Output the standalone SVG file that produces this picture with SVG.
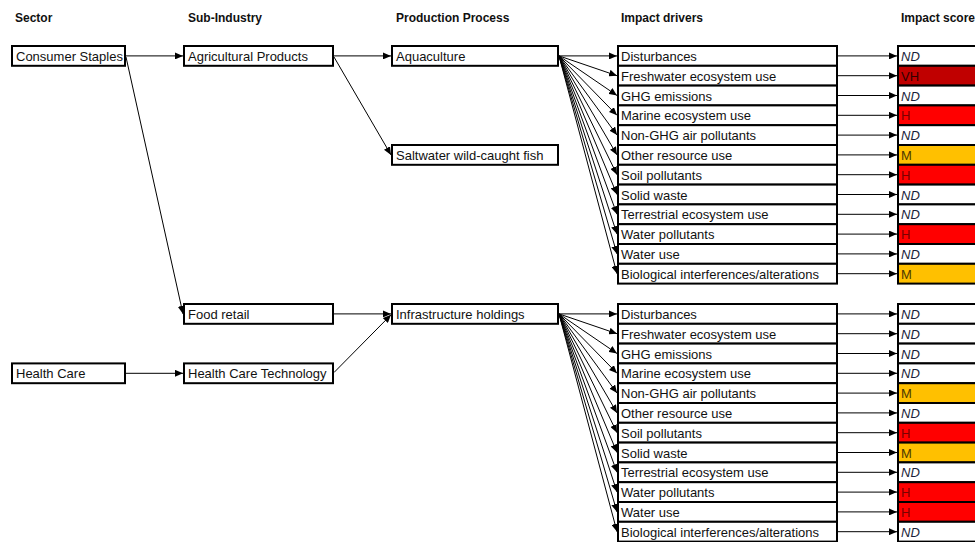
<svg xmlns="http://www.w3.org/2000/svg" width="975" height="542" viewBox="0 0 975 542">
<style>
.box{fill:#fff;stroke:#000;stroke-width:2}
.t{font-family:"Liberation Sans",Arial,sans-serif;font-size:13px;fill:#111}
.h{font-family:"Liberation Sans",Arial,sans-serif;font-size:12px;font-weight:bold;fill:#111}
.nd{font-style:italic;fill:#1a1f3a}
.vh{fill:#C00000;stroke:#000;stroke-width:2}
.hi{fill:#FF0000;stroke:#000;stroke-width:2}
.m{fill:#FFC000;stroke:#000;stroke-width:2}
.tvh{fill:#300000}
.thi{fill:#7a0000}
.tm{fill:#4d3a00}
.c{stroke:#000;stroke-width:1;fill:none;marker-end:url(#ah)}
</style>
<defs>
<marker id="ah" markerUnits="userSpaceOnUse" markerWidth="8" markerHeight="7" refX="8" refY="3.5" orient="auto">
<path d="M0,0 L8,3.5 L0,7 Z" fill="#000"/>
</marker>
</defs>
<rect width="975" height="542" fill="#fff"/>
<g id="headers">
<text class="h" x="15" y="22">Sector</text>
<text class="h" x="188" y="22">Sub-Industry</text>
<text class="h" x="396" y="22">Production Process</text>
<text class="h" x="621" y="22">Impact drivers</text>
<text class="h" x="901" y="22">Impact score</text>
</g>
<g id="connectors">
<line class="c" x1="126" y1="55.9" x2="183" y2="55.9"/>
<line class="c" x1="126" y1="57" x2="183" y2="313.9"/>
<line class="c" x1="334" y1="55.9" x2="391" y2="55.9"/>
<line class="c" x1="334" y1="57" x2="391" y2="154.9"/>
<line class="c" x1="334" y1="313.9" x2="391" y2="313.9"/>
<line class="c" x1="334" y1="372.5" x2="391" y2="314.8"/>
<line class="c" x1="126" y1="373.3" x2="183" y2="373.3"/>
<line class="c" x1="559" y1="55.9" x2="617" y2="55.9"/>
<line class="c" x1="559" y1="55.9" x2="617" y2="75.7"/>
<line class="c" x1="559" y1="55.9" x2="617" y2="95.5"/>
<line class="c" x1="559" y1="55.9" x2="617" y2="115.3"/>
<line class="c" x1="559" y1="55.9" x2="617" y2="135.1"/>
<line class="c" x1="559" y1="55.9" x2="617" y2="154.9"/>
<line class="c" x1="559" y1="55.9" x2="617" y2="174.7"/>
<line class="c" x1="559" y1="55.9" x2="617" y2="194.5"/>
<line class="c" x1="559" y1="55.9" x2="617" y2="214.3"/>
<line class="c" x1="559" y1="55.9" x2="617" y2="234.1"/>
<line class="c" x1="559" y1="55.9" x2="617" y2="253.9"/>
<line class="c" x1="559" y1="55.9" x2="617" y2="273.7"/>
<line class="c" x1="559" y1="313.9" x2="617" y2="313.9"/>
<line class="c" x1="559" y1="313.9" x2="617" y2="333.7"/>
<line class="c" x1="559" y1="313.9" x2="617" y2="353.5"/>
<line class="c" x1="559" y1="313.9" x2="617" y2="373.3"/>
<line class="c" x1="559" y1="313.9" x2="617" y2="393.1"/>
<line class="c" x1="559" y1="313.9" x2="617" y2="412.9"/>
<line class="c" x1="559" y1="313.9" x2="617" y2="432.7"/>
<line class="c" x1="559" y1="313.9" x2="617" y2="452.5"/>
<line class="c" x1="559" y1="313.9" x2="617" y2="472.3"/>
<line class="c" x1="559" y1="313.9" x2="617" y2="492.1"/>
<line class="c" x1="559" y1="313.9" x2="617" y2="511.9"/>
<line class="c" x1="559" y1="313.9" x2="617" y2="531.7"/>
<line class="c" x1="838" y1="55.9" x2="897" y2="55.9"/>
<line class="c" x1="838" y1="75.7" x2="897" y2="75.7"/>
<line class="c" x1="838" y1="95.5" x2="897" y2="95.5"/>
<line class="c" x1="838" y1="115.3" x2="897" y2="115.3"/>
<line class="c" x1="838" y1="135.1" x2="897" y2="135.1"/>
<line class="c" x1="838" y1="154.9" x2="897" y2="154.9"/>
<line class="c" x1="838" y1="174.7" x2="897" y2="174.7"/>
<line class="c" x1="838" y1="194.5" x2="897" y2="194.5"/>
<line class="c" x1="838" y1="214.3" x2="897" y2="214.3"/>
<line class="c" x1="838" y1="234.1" x2="897" y2="234.1"/>
<line class="c" x1="838" y1="253.9" x2="897" y2="253.9"/>
<line class="c" x1="838" y1="273.7" x2="897" y2="273.7"/>
<line class="c" x1="838" y1="313.9" x2="897" y2="313.9"/>
<line class="c" x1="838" y1="333.7" x2="897" y2="333.7"/>
<line class="c" x1="838" y1="353.5" x2="897" y2="353.5"/>
<line class="c" x1="838" y1="373.3" x2="897" y2="373.3"/>
<line class="c" x1="838" y1="393.1" x2="897" y2="393.1"/>
<line class="c" x1="838" y1="412.9" x2="897" y2="412.9"/>
<line class="c" x1="838" y1="432.7" x2="897" y2="432.7"/>
<line class="c" x1="838" y1="452.5" x2="897" y2="452.5"/>
<line class="c" x1="838" y1="472.3" x2="897" y2="472.3"/>
<line class="c" x1="838" y1="492.1" x2="897" y2="492.1"/>
<line class="c" x1="838" y1="511.9" x2="897" y2="511.9"/>
<line class="c" x1="838" y1="531.7" x2="897" y2="531.7"/>
</g>
<g id="sector-consumer-staples"><rect class="box" x="12" y="46" width="113" height="19.8"/><text class="t" x="16" y="61">Consumer Staples</text></g>
<g id="sector-health-care"><rect class="box" x="12" y="363.4" width="113" height="19.8"/><text class="t" x="16" y="378.4">Health Care</text></g>
<g id="sub-agricultural-products"><rect class="box" x="184" y="46" width="149" height="19.8"/><text class="t" x="188" y="61">Agricultural Products</text></g>
<g id="sub-food-retail"><rect class="box" x="184" y="304" width="149" height="19.8"/><text class="t" x="188" y="319">Food retail</text></g>
<g id="sub-health-care-technology"><rect class="box" x="184" y="363.4" width="149" height="19.8"/><text class="t" x="188" y="378.4">Health Care Technology</text></g>
<g id="proc-aquaculture"><rect class="box" x="392" y="46" width="166" height="19.8"/><text class="t" x="396" y="61">Aquaculture</text></g>
<g id="proc-saltwater"><rect class="box" x="392" y="145" width="166" height="19.8"/><text class="t" x="396" y="160">Saltwater wild-caught fish</text></g>
<g id="proc-infrastructure"><rect class="box" x="392" y="304" width="166" height="19.8"/><text class="t" x="396" y="319">Infrastructure holdings</text></g>
<g id="drivers-aquaculture">
<g id="d1-1"><rect class="box" x="618" y="46" width="219" height="19.8"/><text class="t" x="621" y="61">Disturbances</text></g>
<g id="d1-2"><rect class="box" x="618" y="65.8" width="219" height="19.8"/><text class="t" x="621" y="80.8">Freshwater ecosystem use</text></g>
<g id="d1-3"><rect class="box" x="618" y="85.6" width="219" height="19.8"/><text class="t" x="621" y="100.6">GHG emissions</text></g>
<g id="d1-4"><rect class="box" x="618" y="105.4" width="219" height="19.8"/><text class="t" x="621" y="120.4">Marine ecosystem use</text></g>
<g id="d1-5"><rect class="box" x="618" y="125.2" width="219" height="19.8"/><text class="t" x="621" y="140.2">Non-GHG air pollutants</text></g>
<g id="d1-6"><rect class="box" x="618" y="145" width="219" height="19.8"/><text class="t" x="621" y="160">Other resource use</text></g>
<g id="d1-7"><rect class="box" x="618" y="164.8" width="219" height="19.8"/><text class="t" x="621" y="179.8">Soil pollutants</text></g>
<g id="d1-8"><rect class="box" x="618" y="184.6" width="219" height="19.8"/><text class="t" x="621" y="199.6">Solid waste</text></g>
<g id="d1-9"><rect class="box" x="618" y="204.4" width="219" height="19.8"/><text class="t" x="621" y="219.4">Terrestrial ecosystem use</text></g>
<g id="d1-10"><rect class="box" x="618" y="224.2" width="219" height="19.8"/><text class="t" x="621" y="239.2">Water pollutants</text></g>
<g id="d1-11"><rect class="box" x="618" y="244" width="219" height="19.8"/><text class="t" x="621" y="259">Water use</text></g>
<g id="d1-12"><rect class="box" x="618" y="263.8" width="219" height="19.8"/><text class="t" x="621" y="278.8">Biological interferences/alterations</text></g>
</g>
<g id="drivers-infrastructure">
<g id="d2-1"><rect class="box" x="618" y="304" width="219" height="19.8"/><text class="t" x="621" y="319">Disturbances</text></g>
<g id="d2-2"><rect class="box" x="618" y="323.8" width="219" height="19.8"/><text class="t" x="621" y="338.8">Freshwater ecosystem use</text></g>
<g id="d2-3"><rect class="box" x="618" y="343.6" width="219" height="19.8"/><text class="t" x="621" y="358.6">GHG emissions</text></g>
<g id="d2-4"><rect class="box" x="618" y="363.4" width="219" height="19.8"/><text class="t" x="621" y="378.4">Marine ecosystem use</text></g>
<g id="d2-5"><rect class="box" x="618" y="383.2" width="219" height="19.8"/><text class="t" x="621" y="398.2">Non-GHG air pollutants</text></g>
<g id="d2-6"><rect class="box" x="618" y="403" width="219" height="19.8"/><text class="t" x="621" y="418">Other resource use</text></g>
<g id="d2-7"><rect class="box" x="618" y="422.8" width="219" height="19.8"/><text class="t" x="621" y="437.8">Soil pollutants</text></g>
<g id="d2-8"><rect class="box" x="618" y="442.6" width="219" height="19.8"/><text class="t" x="621" y="457.6">Solid waste</text></g>
<g id="d2-9"><rect class="box" x="618" y="462.4" width="219" height="19.8"/><text class="t" x="621" y="477.4">Terrestrial ecosystem use</text></g>
<g id="d2-10"><rect class="box" x="618" y="482.2" width="219" height="19.8"/><text class="t" x="621" y="497.2">Water pollutants</text></g>
<g id="d2-11"><rect class="box" x="618" y="502" width="219" height="19.8"/><text class="t" x="621" y="517">Water use</text></g>
<g id="d2-12"><rect class="box" x="618" y="521.8" width="219" height="19.8"/><text class="t" x="621" y="536.8">Biological interferences/alterations</text></g>
</g>
<g id="scores-aquaculture">
<g id="s1-1"><rect class="box" x="898" y="46" width="100" height="19.8"/><text class="t nd" x="901" y="61">ND</text></g>
<g id="s1-2"><rect class="vh" x="898" y="65.8" width="100" height="19.8"/><text class="t tvh" x="901" y="80.8">VH</text></g>
<g id="s1-3"><rect class="box" x="898" y="85.6" width="100" height="19.8"/><text class="t nd" x="901" y="100.6">ND</text></g>
<g id="s1-4"><rect class="hi" x="898" y="105.4" width="100" height="19.8"/><text class="t thi" x="901" y="120.4">H</text></g>
<g id="s1-5"><rect class="box" x="898" y="125.2" width="100" height="19.8"/><text class="t nd" x="901" y="140.2">ND</text></g>
<g id="s1-6"><rect class="m" x="898" y="145" width="100" height="19.8"/><text class="t tm" x="901" y="160">M</text></g>
<g id="s1-7"><rect class="hi" x="898" y="164.8" width="100" height="19.8"/><text class="t thi" x="901" y="179.8">H</text></g>
<g id="s1-8"><rect class="box" x="898" y="184.6" width="100" height="19.8"/><text class="t nd" x="901" y="199.6">ND</text></g>
<g id="s1-9"><rect class="box" x="898" y="204.4" width="100" height="19.8"/><text class="t nd" x="901" y="219.4">ND</text></g>
<g id="s1-10"><rect class="hi" x="898" y="224.2" width="100" height="19.8"/><text class="t thi" x="901" y="239.2">H</text></g>
<g id="s1-11"><rect class="box" x="898" y="244" width="100" height="19.8"/><text class="t nd" x="901" y="259">ND</text></g>
<g id="s1-12"><rect class="m" x="898" y="263.8" width="100" height="19.8"/><text class="t tm" x="901" y="278.8">M</text></g>
</g>
<g id="scores-infrastructure">
<g id="s2-1"><rect class="box" x="898" y="304" width="100" height="19.8"/><text class="t nd" x="901" y="319">ND</text></g>
<g id="s2-2"><rect class="box" x="898" y="323.8" width="100" height="19.8"/><text class="t nd" x="901" y="338.8">ND</text></g>
<g id="s2-3"><rect class="box" x="898" y="343.6" width="100" height="19.8"/><text class="t nd" x="901" y="358.6">ND</text></g>
<g id="s2-4"><rect class="box" x="898" y="363.4" width="100" height="19.8"/><text class="t nd" x="901" y="378.4">ND</text></g>
<g id="s2-5"><rect class="m" x="898" y="383.2" width="100" height="19.8"/><text class="t tm" x="901" y="398.2">M</text></g>
<g id="s2-6"><rect class="box" x="898" y="403" width="100" height="19.8"/><text class="t nd" x="901" y="418">ND</text></g>
<g id="s2-7"><rect class="hi" x="898" y="422.8" width="100" height="19.8"/><text class="t thi" x="901" y="437.8">H</text></g>
<g id="s2-8"><rect class="m" x="898" y="442.6" width="100" height="19.8"/><text class="t tm" x="901" y="457.6">M</text></g>
<g id="s2-9"><rect class="box" x="898" y="462.4" width="100" height="19.8"/><text class="t nd" x="901" y="477.4">ND</text></g>
<g id="s2-10"><rect class="hi" x="898" y="482.2" width="100" height="19.8"/><text class="t thi" x="901" y="497.2">H</text></g>
<g id="s2-11"><rect class="hi" x="898" y="502" width="100" height="19.8"/><text class="t thi" x="901" y="517">H</text></g>
<g id="s2-12"><rect class="box" x="898" y="521.8" width="100" height="19.8"/><text class="t nd" x="901" y="536.8">ND</text></g>
</g>
</svg>
